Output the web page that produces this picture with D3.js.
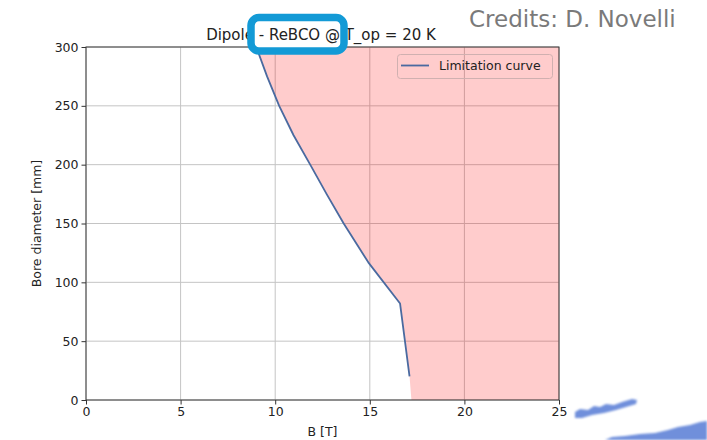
<!DOCTYPE html>
<html>
<head>
<meta charset="utf-8">
<script src="https://cdn.jsdelivr.net/npm/d3@7"></script>
<style>
  html, body { margin: 0; padding: 0; background: #fff; }
  svg { display: block; }
  text { font-family: "DejaVu Sans", sans-serif; fill: #222; }
</style>
</head>
<body>
<svg id="chart" width="707" height="440"></svg>
<script>
// Limitation curve: field B [T] vs bore diameter [mm]
const bField       = [9.0, 9.57, 10.21, 10.97, 11.85, 12.72, 13.62, 14.92, 16.6, 17.1];
const boreDiameter = [300, 275,  250,   225,   200,   175,   150,   117,   82,   20];

// Shaded (infeasible) region continues the last segment down to zero bore
const regionEdgeB = [17.2];
const regionEdgeD = [0];

const xTicks = [0, 5, 10, 15, 20, 25];
const yTicks = [0, 50, 100, 150, 200, 250, 300];
const xDomain = [0, 25];
const yDomain = [0, 300];

const titleText  = "Dipole - ReBCO @ T_op = 20 K";
const xLabel     = "B [T]";
const yLabel     = "Bore diameter [mm]";
const legendText = "Limitation curve";
const creditText = "Credits: D. Novelli";

const svg = d3.select("#chart");
const plot = { left: 86, right: 559, top: 47, bottom: 400 };

const x = d3.scaleLinear().domain(xDomain).range([plot.left, plot.right]);
const y = d3.scaleLinear().domain(yDomain).range([plot.bottom, plot.top]);

const defs = svg.append("defs");
defs.append("clipPath").attr("id", "plotClip")
  .append("rect")
  .attr("x", plot.left).attr("y", plot.top)
  .attr("width", plot.right - plot.left).attr("height", plot.bottom - plot.top);

// grid
const grid = svg.append("g");
grid.selectAll("line.gx").data(xTicks).join("line")
  .attr("x1", d => x(d)).attr("x2", d => x(d))
  .attr("y1", plot.top).attr("y2", plot.bottom)
  .attr("stroke", "#c4c4c4").attr("stroke-width", 1);
grid.selectAll("line.gy").data(yTicks).join("line")
  .attr("y1", d => y(d)).attr("y2", d => y(d))
  .attr("x1", plot.left).attr("x2", plot.right)
  .attr("stroke", "#c4c4c4").attr("stroke-width", 1);

// shaded region right of the curve
const curvePts = bField.map((b, i) => [b, boreDiameter[i]]);
const edgePts = regionEdgeB.map((b, i) => [b, regionEdgeD[i]]);
const regionPts = curvePts.concat(edgePts, [[xDomain[1], yDomain[0]], [xDomain[1], boreDiameter[0]]]);
svg.append("path")
  .attr("clip-path", "url(#plotClip)")
  .attr("d", d3.line().x(d => x(d[0])).y(d => y(d[1]))(regionPts) + "Z")
  .attr("fill", "red").attr("fill-opacity", 0.2).attr("stroke", "none");

// curve
svg.append("path")
  .attr("clip-path", "url(#plotClip)")
  .attr("d", d3.line().x(d => x(d[0])).y(d => y(d[1]))(curvePts))
  .attr("fill", "none").attr("stroke", "#4a6aa0").attr("stroke-width", 1.8)
  .attr("stroke-linejoin", "round");

// axes
const xAxis = svg.append("g").attr("transform", `translate(0,${plot.bottom})`)
  .call(d3.axisBottom(x).tickValues(xTicks).tickSize(4.5).tickPadding(3).tickFormat(d3.format("d")));
const yAxis = svg.append("g").attr("transform", `translate(${plot.left},0)`)
  .call(d3.axisLeft(y).tickValues(yTicks).tickSize(4.5).tickPadding(3).tickFormat(d3.format("d")));
[xAxis, yAxis].forEach(a => {
  a.select(".domain").remove();
  a.selectAll(".tick line").attr("stroke", "#333");
  a.selectAll(".tick text").attr("font-size", 12.5).attr("font-family", "DejaVu Sans").attr("fill", "#222");
});

// frame
svg.append("rect")
  .attr("x", plot.left).attr("y", plot.top)
  .attr("width", plot.right - plot.left).attr("height", plot.bottom - plot.top)
  .attr("fill", "none").attr("stroke", "#3a3a3a").attr("stroke-width", 1);

// axis labels
svg.append("text").attr("x", (plot.left + plot.right) / 2).attr("y", 436)
  .attr("text-anchor", "middle").attr("font-size", 12.5).text(xLabel);
svg.append("text")
  .attr("transform", `translate(41,${(plot.top + plot.bottom) / 2}) rotate(-90)`)
  .attr("text-anchor", "middle").attr("font-size", 12.5).text(yLabel);

// legend
const lg = svg.append("g");
lg.append("rect").attr("x", 397.5).attr("y", 54.5).attr("width", 155).attr("height", 24)
  .attr("rx", 3).attr("fill", "none").attr("stroke", "#d0b0b0").attr("stroke-width", 1);
lg.append("line").attr("x1", 401).attr("x2", 429).attr("y1", 65.5).attr("y2", 65.5)
  .attr("stroke", "#4a6aa0").attr("stroke-width", 1.8);
lg.append("text").attr("x", 439).attr("y", 70).attr("font-size", 12.5).text(legendText);

// title with highlight box
svg.append("rect").attr("x", 251).attr("y", 17.5).attr("width", 93).attr("height", 33.5)
  .attr("rx", 8).attr("fill", "#fff");
svg.append("text").attr("x", 321).attr("y", 40)
  .attr("text-anchor", "middle").attr("font-size", 15).text(titleText);
svg.append("rect").attr("x", 251).attr("y", 17.5).attr("width", 93).attr("height", 33.5)
  .attr("rx", 8).attr("fill", "none").attr("stroke", "#139ad6").attr("stroke-width", 7.5);

// credits
svg.append("text").attr("x", 469).attr("y", 27)
  .attr("font-family", "Lato, 'Open Sans', sans-serif").attr("font-size", 23)
  .style("fill", "#7a7a7a").text(creditText);

// brush streaks in the corner
const blur = defs.append("filter").attr("id", "soft");
blur.append("feGaussianBlur").attr("stdDeviation", 0.9);
const streaks = svg.append("g").attr("fill", "#6f8fdb").attr("filter", "url(#soft)");
streaks.append("path").attr("d",
  "M575,412 L580,409 L588,410 L594,406 L600,407 L606,404 L614,405 L622,402 L632,399 L637,400 L636,404 L626,407 L616,410 L604,413 L592,415 L582,418 L575,418 Z");
streaks.append("path").attr("d",
  "M605,440 L612,437 L625,436 L640,434 L655,433 L668,430 L678,427 L690,425 L700,422 L707,421 L707,440 Z");
</script>
</body>
</html>
